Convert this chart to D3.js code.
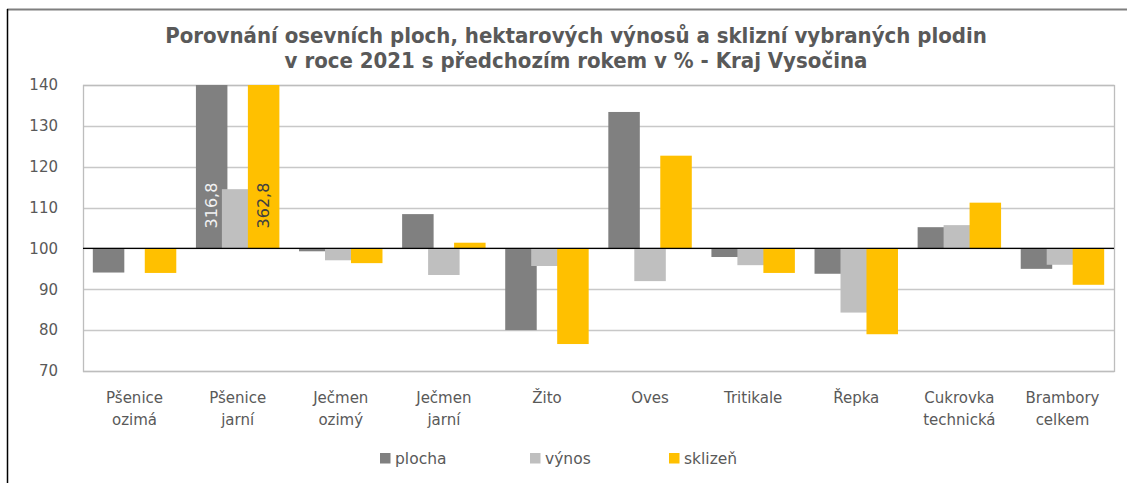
<!DOCTYPE html>
<html><head><meta charset="utf-8">
<script src="https://cdn.jsdelivr.net/npm/d3@7"></script>
<style>
html,body{margin:0;padding:0;background:#fff;}
svg{display:block;}
text{font-family:"DejaVu Sans",Verdana,sans-serif;}
</style></head>
<body>
<svg id="chart" width="1127" height="483"></svg>
<script>
const titleLines = ["Porovnání osevních ploch, hektarových výnosů a sklizní vybraných plodin",
                    "v roce 2021 s předchozím rokem v % - Kraj Vysočina"];
const categories = ["Pšenice ozimá","Pšenice jarní","Ječmen ozimý","Ječmen jarní","Žito","Oves","Tritikale","Řepka","Cukrovka technická","Brambory celkem"];
const categoryLines = [["Pšenice","ozimá"],["Pšenice","jarní"],["Ječmen","ozimý"],["Ječmen","jarní"],["Žito"],["Oves"],["Tritikale"],["Řepka"],["Cukrovka","technická"],["Brambory","celkem"]];
const seriesNames = ["plocha","výnos","sklizeň"];
const plocha  = [94.1, 316.8, 99.3, 108.4, 80.0, 133.4, 97.9, 93.8, 105.2, 95.0];
const vynos   = [100.0, 114.5, 97.1, 93.5, 95.7, 92.0, 95.9, 84.3, 105.7, 96.0];
const sklizen = [94.0, 362.8, 96.4, 101.4, 76.6, 122.7, 94.0, 79.0, 111.2, 91.1];
const yTicks = [70, 80, 90, 100, 110, 120, 130, 140];
const seriesColors = ["#808080", "#BFBFBF", "#FFC000"];
const seriesValues = [plocha, vynos, sklizen];

const svg = d3.select("#chart");
// outer frame
svg.append("line").attr("x1",7).attr("x2",1127).attr("y1",9.5).attr("y2",9.5).attr("stroke","#7f7f7f").attr("stroke-width",2);
svg.append("line").attr("x1",7.5).attr("x2",7.5).attr("y1",9).attr("y2",483).attr("stroke","#000").attr("stroke-width",1.5);

const L = 83, R = 1114, T = 85, B = 371;
const x0 = d3.scaleBand().domain(categories).range([L, R]).paddingInner(0).paddingOuter(0);
const y = d3.scaleLinear().domain([70, 140]).range([B, T]).clamp(true);
const bw = x0.bandwidth();
const barW = bw * 0.3055;
const x1 = d3.scalePoint().domain(seriesNames).range([-bw * 0.252, bw * 0.252]);

// gridlines
svg.append("g").selectAll("line").data(yTicks).join("line")
  .attr("x1", L).attr("x2", R).attr("y1", d => Math.round(y(d)) + 0.5).attr("y2", d => Math.round(y(d)) + 0.5)
  .attr("stroke", "#c8c8c8").attr("stroke-width", 1.3);
// plot border
svg.append("rect").attr("x", L + 0.5).attr("y", T + 0.5).attr("width", R - L).attr("height", B - T)
  .attr("fill", "none").attr("stroke", "#bdbdbd").attr("stroke-width", 1.3);

// y axis labels
const yAxis = d3.axisLeft(y).tickValues(yTicks).tickSize(0).tickPadding(25);
const gy = svg.append("g").attr("transform", `translate(${L},0)`).call(yAxis);
gy.select(".domain").remove();
gy.selectAll("text").attr("font-size", 15).attr("fill", "#595959").attr("font-family", "DejaVu Sans");

// bars
const barData = [];
seriesNames.forEach((s, si) => {
  categories.forEach((c, ci) => {
    barData.push({s, si, c, v: seriesValues[si][ci]});
  });
});
svg.append("g").selectAll("rect").data(barData).join("rect")
  .attr("x", d => x0(d.c) + bw / 2 + x1(d.s) - barW / 2)
  .attr("width", barW)
  .attr("y", d => Math.min(y(d.v), y(100)))
  .attr("height", d => Math.abs(y(d.v) - y(100)))
  .attr("fill", d => seriesColors[d.si]);

// baseline at 100
svg.append("line").attr("x1", L).attr("x2", R).attr("y1", y(100)).attr("y2", y(100)).attr("stroke", "#000").attr("stroke-width", 1.3);

// data labels for clipped bars
const clipped = barData.filter(d => d.v > 140);
svg.append("g").selectAll("text").data(clipped).join("text")
  .attr("transform", d => `translate(${x0(d.c) + bw / 2 + x1(d.s)},${y(100) - 20}) rotate(-90)`)
  .attr("dy", "0.36em")
  .attr("font-size", 16)
  .attr("fill", d => d.si === 0 ? "#f2f2f2" : "#404040")
  .text(d => d3.format(".1f")(d.v).replace(".", ","));

// category labels
const gx = svg.append("g");
categories.forEach((c, ci) => {
  const t = gx.append("text").attr("x", x0(c) + bw / 2).attr("y", 403)
    .attr("text-anchor", "middle").attr("font-size", 15).attr("fill", "#595959");
  categoryLines[ci].forEach((ln, li) => {
    t.append("tspan").attr("x", x0(c) + bw / 2).attr("dy", li === 0 ? 0 : 22).text(ln);
  });
});

// legend
const legX = [380, 530, 669];
const lg = svg.append("g");
seriesNames.forEach((s, si) => {
  lg.append("rect").attr("x", legX[si]).attr("y", 453).attr("width", 10.5).attr("height", 10.5).attr("fill", seriesColors[si]);
  lg.append("text").attr("x", legX[si] + 15).attr("y", 464).attr("font-size", 15.5).attr("fill", "#595959").text(s);
});

// title
const tg = svg.append("g");
const tBase = [43, 68];
titleLines.forEach((ln, i) => {
  tg.append("text").attr("x", 576).attr("y", tBase[i]).attr("text-anchor", "middle")
    .attr("font-size", 20).attr("font-weight", "bold").attr("fill", "#595959")
    .style("font-family", "'DejaVu Sans Condensed','DejaVu Sans',sans-serif").style("font-stretch", "condensed")
    .text(ln);
});
// fit first line to reference width
const first = tg.select("text").node();
const w = first.getComputedTextLength();
const fs = Math.max(16, Math.min(22, 20 * 827 / w));
tg.selectAll("text").attr("font-size", fs);
</script>
</body></html>
